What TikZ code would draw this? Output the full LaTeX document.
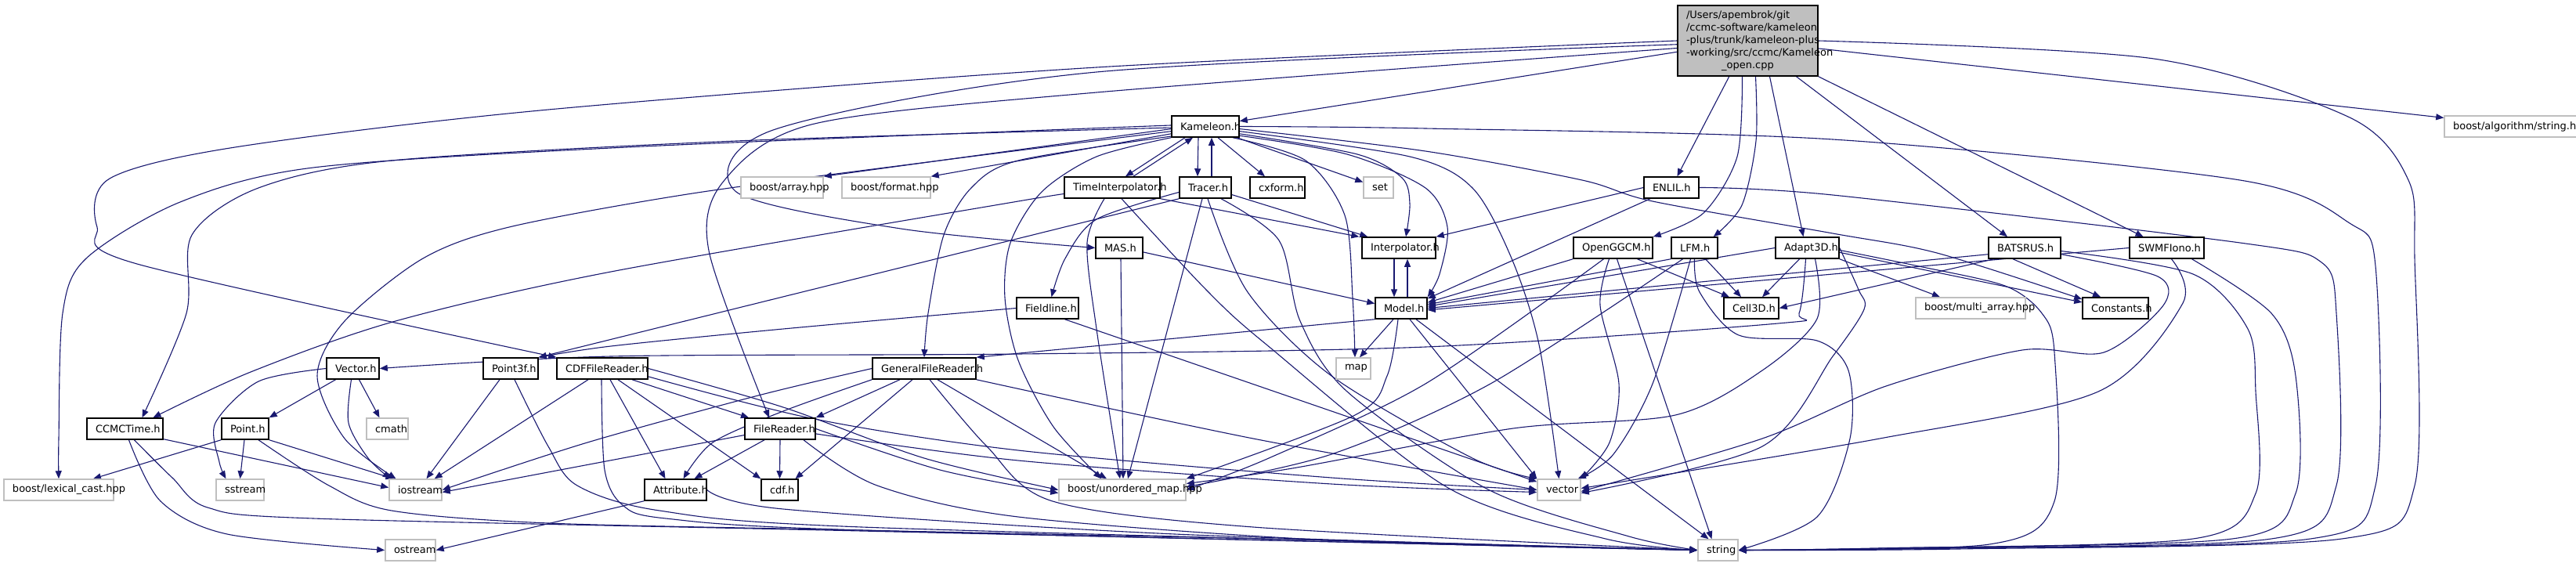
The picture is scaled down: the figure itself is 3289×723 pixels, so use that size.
\documentclass[tikz,border=0pt]{standalone}
\usepackage{fontspec}
\setmainfont{DejaVu Sans}
\usetikzlibrary{arrows.meta}
\definecolor{edgecol}{HTML}{191970}
\definecolor{gborder}{HTML}{BFBFBF}
\definecolor{mainfill}{HTML}{BFBFBF}
\newcommand{\nlab}[2]{\makebox[#1][l]{#2}}
\pgfdeclarelayer{bg}
\pgfsetlayers{bg,main}
\begin{document}
\begin{tikzpicture}[x=1pt,y=-1pt,
  nb/.style={draw=black, line width=1.5pt, fill=white, inner xsep=11pt, inner ysep=0pt, minimum height=27pt, font=\fontsize{13}{16}\selectfont},
  ng/.style={nb, draw=gborder},
  e/.style={draw=edgecol, line width=1.1pt, -{Triangle[length=10pt,width=8pt]}},
]
\useasboundingbox (0,0) rectangle (3289,723);
% row 0
\node[nb, fill=mainfill, minimum height=90pt, align=center] (main) at (2231.5,52) {\nlab{157pt}{/Users/apembrok/git}\\\nlab{157pt}{/ccmc-software/kameleon}\\\nlab{157pt}{-plus/trunk/kameleon-plus}\\\nlab{157pt}{-working/src/ccmc/Kameleon}\\\makebox[157pt][c]{\_open.cpp}};
% row 1
\node[nb] (K) at (1539,161.5) {\nlab{64pt}{Kameleon.h}};
\node[ng] (balg) at (3221,161.5) {\nlab{178pt}{boost/algorithm/string.hpp}};
% row 2
\node[ng] (array) at (998.5,239.5) {\nlab{83pt}{boost/array.hpp}};
\node[ng] (format) at (1131.5,239.5) {\nlab{91pt}{boost/format.hpp}};
\node[nb] (TI) at (1420,239.5) {\nlab{100pt}{TimeInterpolator.h}};
\node[nb] (Tr) at (1539,239.5) {\nlab{44pt}{Tracer.h}};
\node[nb] (cxform) at (1631,239.5) {\nlab{48pt}{cxform.h}};
\node[ng] (set) at (1760,239.5) {\nlab{16pt}{set}};
\node[nb] (ENLIL) at (2134,239.5) {\nlab{48pt}{ENLIL.h}};
% row 3
\node[nb] (MAS) at (1429,316.5) {\nlab{38pt}{MAS.h}};
\node[nb] (Interp) at (1786,316.5) {\nlab{72pt}{Interpolator.h}};
\node[nb] (OG) at (2059.5,316.5) {\nlab{79pt}{OpenGGCM.h}};
\node[nb] (LFM) at (2163.5,316.5) {\nlab{37pt}{LFM.h}};
\node[nb] (A3) at (2307.5,316.5) {\nlab{59pt}{Adapt3D.h}};
\node[nb] (B) at (2585,316.5) {\nlab{70pt}{BATSRUS.h}};
\node[nb] (S) at (2766.5,316.5) {\nlab{73pt}{SWMFIono.h}};
% row 4
\node[nb] (Fieldline) at (1337.5,393.5) {\nlab{57pt}{Fieldline.h}};
\node[nb] (Model) at (1789,393.5) {\nlab{44pt}{Model.h}};
\node[nb] (Cell3D) at (2236,393.5) {\nlab{48pt}{Cell3D.h}};
\node[ng] (multi) at (2516,393.5) {\nlab{118pt}{boost/multi\_array.hpp}};
\node[nb] (Constants) at (2701,393.5) {\nlab{62pt}{Constants.h}};
% row 5
\node[nb] (Vector) at (450.5,470.5) {\nlab{45pt}{Vector.h}};
\node[nb] (Point3f) at (652,470.5) {\nlab{48pt}{Point3f.h}};
\node[nb] (CDF) at (769,470.5) {\nlab{94pt}{CDFFileReader.h}};
\node[nb] (GFR) at (1180,470.5) {\nlab{110pt}{GeneralFileReader.h}};
\node[ng] (map) at (1728,470.5) {\nlab{22pt}{map}};
% row 6
\node[nb] (CCMCTime) at (159.5,547.5) {\nlab{75pt}{CCMCTime.h}};
\node[nb] (Point) at (313,547.5) {\nlab{38pt}{Point.h}};
\node[ng] (cmath) at (494.5,547.5) {\nlab{31pt}{cmath}};
\node[nb] (FR) at (996,547.5) {\nlab{68pt}{FileReader.h}};
% row 7
\node[ng] (lexical) at (75,625.5) {\nlab{118pt}{boost/lexical\_cast.hpp}};
\node[ng] (sstream) at (306.5,625.5) {\nlab{39pt}{sstream}};
\node[ng] (iostream) at (530.5,625.5) {\nlab{45pt}{iostream}};
\node[nb] (Attribute) at (862.5,625.5) {\nlab{57pt}{Attribute.h}};
\node[nb] (cdf) at (995.5,625.5) {\nlab{25pt}{cdf.h}};
\node[ng] (umap) at (1433,625.5) {\nlab{140pt}{boost/unordered\_map.hpp}};
\node[ng] (vector) at (1990.5,625.5) {\nlab{33pt}{vector}};
% row 8
\node[ng] (ostream) at (524,702.5) {\nlab{42pt}{ostream}};
\node[ng] (string) at (2193.5,702.5) {\nlab{29pt}{string}};

\begin{pgfonlayer}{bg}
% main
\draw[e] (main) -- (K);
\draw[e] (main) -- (balg);
\draw[e] plot[smooth] coordinates {(main.east) (2750,75) (3000,150) (3075,230) (3083,330) (3083,620) (2990,688) (2500,701) (string.east)};
\draw[e] (main) -- (ENLIL);
\draw[e] plot[smooth] coordinates {([xshift=-7pt]main.south) (2218,200) (2175,272) (OG.north east)};
\draw[e] plot[smooth] coordinates {([xshift=10pt]main.south) (2242,180) (2224,262) ([xshift=-6pt]LFM.north east)};
\draw[e] ([xshift=28pt]main.south) -- ([xshift=-5pt]A3.north);
\draw[e] ([xshift=62pt]main.south) -- ([xshift=-22pt]B.north);
\draw[e] (main.south east) -- ([xshift=-30pt]S.north);
\draw[e] plot[smooth] coordinates {(main.183) (1400,92) (990,165) (940,245) (1150,292) (MAS.west)};
\draw[e] plot[smooth] coordinates {(main.180) (1400,86) (700,140) (300,188) (140,228) (124,290) (175,337) (CDF.north west)};
\draw[e] plot[smooth] coordinates {(main.186) (1400,118) (1040,158) (925,230) (905,320) ([xshift=-14pt]FR.north)};
% Kameleon.h
\draw[e] plot[smooth] coordinates {(K.178) (800,188) (400,214) (230,258) (110,330) (80,400) (75,560) (lexical.north)};
\draw[e] plot[smooth] coordinates {(K.182) (940,180) (500,205) (330,240) (245,300) (238,400) ([xshift=22pt]CCMCTime.north)};
\draw[e] plot[smooth] coordinates {(K.188) (1200,205) (884,247) (650,290) (540,330) (440,410) (405,480) (440,560) ([xshift=-25pt]iostream.north)};
\draw[e] (K.184) -- (array.north east);
\draw[e] (K.192) -- (format.north east);
\draw[e] plot[smooth] coordinates {(K.196) (1300,205) (1240,240) (1205,300) (1185,400) (GFR.north)};
\draw[e] plot[smooth] coordinates {(K.south west) (1400,200) (1330,245) (1290,310) (1283,380) (1300,460) (1345,545) ([xshift=-27pt]umap.north)};
\draw[e] ([xshift=-26pt]K.south) -- ([xshift=17pt]TI.north);
\draw[e] ([xshift=27pt]TI.north) -- ([xshift=-16pt]K.south);
\draw[e] ([xshift=-9pt]K.south) -- ([xshift=-10pt]Tr.north);
\draw[e] ([xshift=8pt]Tr.north) -- ([xshift=8pt]K.south);
\draw[e] ([xshift=16pt]K.south) -- ([xshift=-16pt]cxform.north);
\draw[e] (K) -- (set);
\draw[e] plot[smooth] coordinates {(K.-12) (1733,197) (1790,227) (1800,260) ([xshift=9pt]Interp.north)};
\draw[e] plot[smooth] coordinates {(K.-15) (1720,197) (1820,240) (1848,290) (1838,350) (Model.north east)};
\draw[e] plot[smooth] coordinates {([xshift=35pt]K.south) (1667,205) (1717,275) (1727,380) ([xshift=2pt]map.north)};
\draw[e] plot[smooth] coordinates {(K.-8) (1800,200) (1880,240) (1930,330) (1965,440) (vector.north)};
\draw[e] plot[smooth] coordinates {(K.east) (1820,164) (2340,178) (2860,230) (3000,285) (3033,340) (3033,620) (2950,688) (2500,700) (string.east)};
\draw[e] plot[smooth] coordinates {(K.-4) (1820,193) (2020,230) (2110,257) (2340,298) (2473,323) (Constants.165)};
% TimeInterpolator.h
\draw[e] plot[smooth] coordinates {(TI.188) (1300,257) (780,347) (505,410) (320,475) ([xshift=36pt]CCMCTime.north)};
\draw[e] plot[smooth] coordinates {([xshift=-10pt]TI.south) (1388,310) (1400,420) ([xshift=-3pt]umap.north)};
\draw[e] (TI.south east) -- ([xshift=-3pt]Interp.north west);
\draw[e] plot[smooth] coordinates {([xshift=12pt]TI.south) (1540,370) (1617,440) (1849,623) (2050,688) (string.west)};
% Tracer.h
\draw[e] plot[smooth] coordinates {(Tr.190) (1400,280) (1360,330) ([xshift=5pt]Fieldline.north)};
\draw[e] (Tr.south west) -- (Point3f.north east);
\draw[e] (Tr.-15) -- ([xshift=8pt]Interp.north west);
\draw[e] ([xshift=-4pt]Tr.south) -- ([xshift=7pt]umap.north);
\draw[e] plot[smooth] coordinates {([xshift=3pt]Tr.south) (1593,373) (1700,480) (1880,585) (vector.north west)};
\draw[e] plot[smooth] coordinates {([xshift=20pt]Tr.south) (1633,307) (1660,410) (1720,500) (1900,625) (2080,685) (string.west)};
% MAS.h
\draw[e] (MAS.-10) -- (Model.170);
\draw[e] ([xshift=2pt]MAS.south) -- ([xshift=1pt]umap.north);
% Interpolator.h / Model.h
\draw[e] ([xshift=-6pt]Interp.south) -- ([xshift=-9pt]Model.north);
\draw[e] ([xshift=8pt]Model.north) -- ([xshift=11pt]Interp.south);
\draw[e] ([xshift=-10pt]Model.south) -- ([xshift=8pt]map.north);
\draw[e] (Model.south west) -- (GFR.north east);
\draw[e] plot[smooth] coordinates {([xshift=-4pt]Model.south) (1771,480) (1730,530) (umap.north east)};
\draw[e] ([xshift=11pt]Model.south) -- (vector.north west);
\draw[e] ([xshift=19pt]Model.south) -- ([xshift=-12pt]string.north);
% Fieldline.h
\draw[e] plot[smooth] coordinates {(Fieldline.west) (1000,420) (780,442) (Point3f.north east)};
\draw[e] ([xshift=22pt]Fieldline.south) -- (vector.160);
% GeneralFileReader.h
\draw[e] ([xshift=-31pt]GFR.south) -- (FR.north east);
\draw[e] plot[smooth] coordinates {(GFR.south west) (1000,525) (910,565) ([xshift=10pt]Attribute.north)};
\draw[e] ([xshift=-15pt]GFR.south) -- ([xshift=20pt]cdf.north);
\draw[e] ([xshift=17pt]GFR.south) -- ([xshift=-20pt]umap.north);
\draw[e] plot[smooth] coordinates {([xshift=7pt]GFR.south) (1260,570) (1344,640) (1600,673) (string.west)};
\draw[e] plot[smooth] coordinates {(GFR.south east) (1600,560) (vector.west)};
\draw[e] plot[smooth] coordinates {(GFR.west) (968,505) (750,565) (iostream.east)};
% CDFFileReader.h
\draw[e] ([xshift=-18pt]CDF.south) -- ([xshift=-10pt]iostream.north east);
\draw[e] ([xshift=10pt]CDF.south) -- ([xshift=-13pt]Attribute.north);
\draw[e] ([xshift=20pt]CDF.south) -- (cdf.north west);
\draw[e] ([xshift=38pt]CDF.south) -- ([xshift=-40pt]FR.north);
\draw[e] plot[smooth] coordinates {([xshift=-1pt]CDF.south) (772,600) (795,645) (850,662) (1100,677) (string.west)};
\draw[e] plot[smooth] coordinates {(CDF.east) (1000,520) (1180,585) (umap.west)};
\draw[e] plot[smooth] coordinates {(CDF.-10) (1040,535) (1300,575) (1700,610) (vector.west)};
% FileReader.h
\draw[e] (FR.190) -- (iostream.-5);
\draw[e] ([xshift=-20pt]FR.south) -- ([xshift=24pt]Attribute.north);
\draw[e] (FR.south) -- (cdf.north);
\draw[e] plot[smooth] coordinates {(FR.east) (1200,600) ([yshift=-4pt]umap.west)};
\draw[e] plot[smooth] coordinates {(FR.-8) (1300,588) (1700,618) ([yshift=-3pt]vector.west)};
\draw[e] plot[smooth] coordinates {([xshift=30pt]FR.south) (1120,620) (1300,660) (1700,690) (string.west)};
% Attribute.h
\draw[e] (Attribute.south west) -- (ostream.east);
\draw[e] plot[smooth] coordinates {(Attribute.east) (1000,650) (1500,682) (string.west)};
% Vector.h
\draw[e] ([xshift=-22pt]Vector.south) -- (Point.north east);
\draw[e] ([xshift=8pt]Vector.south) -- ([xshift=-10pt]cmath.north);
\draw[e] plot[smooth] coordinates {([xshift=-2pt]Vector.south) (445,540) (470,585) ([xshift=-32pt]iostream.north)};
\draw[e] plot[smooth] coordinates {(Vector.west) (330,487) (275,540) (280,590) ([xshift=-18pt]sstream.north)};
% Point.h
\draw[e] (Point.south west) -- ([xshift=44pt]lexical.north);
\draw[e] ([xshift=-1pt]Point.south) -- (sstream.north);
\draw[e] (Point.south east) -- ([xshift=-28pt]iostream.north);
\draw[e] plot[smooth] coordinates {([xshift=17pt]Point.south) (420,620) (500,652) (700,668) (1100,677) (1700,690) (string.west)};
% Point3f.h
\draw[e] ([xshift=-14pt]Point3f.south) -- ([xshift=14pt]iostream.north);
\draw[e] plot[smooth] coordinates {([xshift=5pt]Point3f.south) (700,570) (737,620) (842,652) (1100,673) (string.west)};
% CCMCTime.h
\draw[e] (CCMCTime.-15) -- (iostream.175);
\draw[e] plot[smooth] coordinates {([xshift=5pt]CCMCTime.south) (205,640) (290,682) (ostream.west)};
\draw[e] plot[smooth] coordinates {([xshift=12pt]CCMCTime.south) (220,610) (265,648) (400,662) (1100,678) (string.west)};
% ENLIL.h
\draw[e] (ENLIL.west) -- (Interp.north east);
\draw[e] ([xshift=-27pt]ENLIL.south) -- (Model.20);
\draw[e] plot[smooth] coordinates {(ENLIL.east) (2340,249) (2860,310) (2964,335) (2983,400) (2983,620) (2900,688) (2450,700) (string.east)};
% OpenGGCM.h
\draw[e] (OG.south west) -- (Model.12);
\draw[e] ([xshift=31pt]OG.south) -- ([xshift=-28pt]Cell3D.north);
\draw[e] plot[smooth] coordinates {([xshift=-12pt]OG.south) (1820,490) (1620,585) (umap.east)};
\draw[e] plot[smooth] coordinates {([xshift=-5pt]OG.south) (2043,390) (2067,490) (2055,565) (vector.north east)};
\draw[e] ([xshift=5pt]OG.south) -- ([xshift=-8pt]string.north);
% LFM.h
\draw[e] (LFM.south west) -- (Model.8);
\draw[e] ([xshift=14pt]LFM.south) -- ([xshift=-13pt]Cell3D.north);
\draw[e] plot[smooth] coordinates {([xshift=-15pt]LFM.south) (1903,490) (1700,580) ([yshift=4pt]umap.east)};
\draw[e] plot[smooth] coordinates {([xshift=-5pt]LFM.south) (2110,490) (2060,580) ([xshift=-4pt]vector.north east)};
\draw[e] plot[smooth] coordinates {(LFM.south) (2170,373) (2220,428) (2320,435) (2360,473) (2362,560) (2320,660) (string.east)};
% Adapt3D.h
\draw[e] (A3.west) -- (Model.4);
\draw[e] ([xshift=-10pt]A3.south) -- ([xshift=14pt]Cell3D.north);
\draw[e] (A3.south east) -- ([xshift=-39pt]multi.north);
\draw[e] (A3.-8) -- (Constants.170);
\draw[e] plot[smooth] coordinates {([xshift=-2pt]A3.south) (2297,400) (2270,413) (1820,443) (1300,452) (780,455) (Vector.east)};
\draw[e] plot[smooth] coordinates {([xshift=10pt]A3.south) (2320,407) (2250,473) (2139,530) (1932,547) (1650,598) ([yshift=8pt]umap.east)};
\draw[e] plot[smooth] coordinates {(A3.east) (2373,370) (2380,395) (2340,455) (2250,570) ([yshift=-4pt]vector.east)};
\draw[e] plot[smooth] coordinates {(A3.-4) (2450,340) (2560,365) (2607,400) (2623,450) (2623,640) (2540,695) (string.east)};
% BATSRUS.h
\draw[e] (B.190) -- (Model.east);
\draw[e] (B.200) -- (Cell3D.east);
\draw[e] ([xshift=-15pt]B.south) -- ([xshift=-19pt]Constants.north);
\draw[e] plot[smooth] coordinates {(B.-10) (2755,353) (2762,390) (2686,450) (2582,447) (2408,493) (2250,560) ([yshift=-2pt]vector.east)};
\draw[e] plot[smooth] coordinates {(B.-5) (2800,350) (2870,420) (2880,500) (2880,630) (2800,688) (2400,700) (string.east)};
% SWMFIono.h
\draw[e] (S.west) -- (Model.-4);
\draw[e] plot[smooth] coordinates {([xshift=6pt]S.south) (2787,387) (2679,500) (2400,560) ([yshift=2pt]vector.east)};
\draw[e] plot[smooth] coordinates {([xshift=32pt]S.south) (2900,400) (2931,480) (2931,630) (2850,688) (2400,700) (string.east)};
\end{pgfonlayer}
\end{tikzpicture}
\end{document}
